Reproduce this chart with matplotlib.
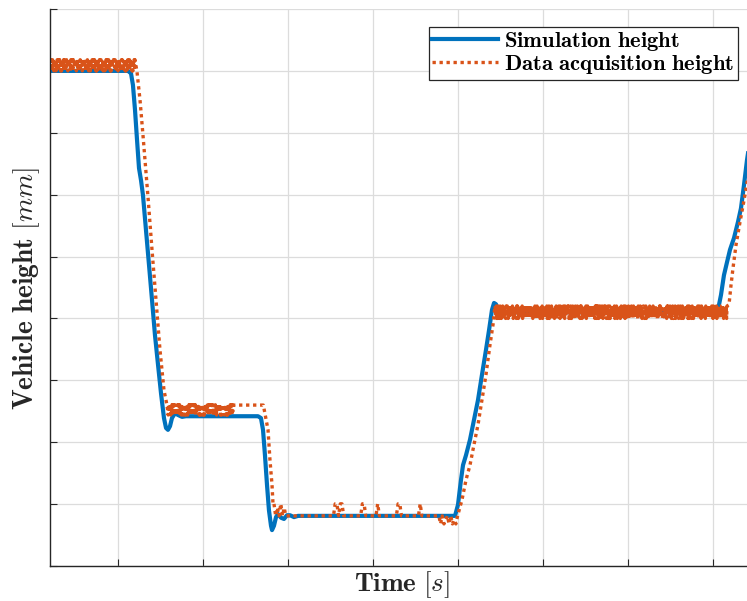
import numpy as np
import matplotlib
matplotlib.use("Agg")
import matplotlib.pyplot as plt

plt.rcParams["mathtext.fontset"] = "cm"
plt.rcParams["font.family"] = ["DejaVu Serif"]

BLUE = "#0072BD"
ORANGE = "#D95319"

# ---- simulated height (s, mm) ----
sim_t = [0.0, 9.18, 9.53, 9.76, 10.0, 10.24, 10.47, 10.71, 10.94, 11.29, 11.65, 12.0,
         12.35, 12.71, 13.06, 13.41, 13.65, 13.88, 14.12, 14.35, 14.71, 15.06, 15.53,
         16.0, 24.47, 24.82, 25.06, 25.29, 25.53, 25.76, 26.0, 26.12, 26.35, 26.59,
         26.82, 27.18, 27.53, 27.88, 28.24, 28.71, 29.18, 47.65, 48.0, 48.35, 48.59,
         48.94, 49.41, 49.88, 50.35, 50.82, 51.29, 51.65, 52.0, 52.24, 52.47, 52.71,
         53.06, 53.53, 78.24, 78.59, 78.94, 79.29, 79.65, 80.0, 80.47, 80.94, 81.29,
         81.65, 82.0, 82.35]
sim_h = [230.0, 230.0, 229.6, 227.7, 223.7, 218.8, 214.3, 212.3, 209.9, 204.3, 198.6,
         193.0, 187.3, 182.5, 177.9, 173.9, 172.3, 172.0, 172.6, 173.9, 174.7, 174.4,
         174.1, 174.2, 174.2, 173.9, 172.0, 167.9, 163.1, 159.0, 156.5, 155.8, 156.5,
         157.9, 158.4, 157.8, 157.6, 158.2, 158.2, 157.9, 158.1, 158.1, 159.9, 163.9,
         166.3, 167.9, 170.4, 173.6, 176.8, 180.9, 184.9, 188.1, 191.4, 192.5, 192.3,
         191.4, 190.9, 191.0, 191.0, 191.4, 193.8, 197.0, 199.1, 201.1, 203.0, 205.6,
         207.8, 211.6, 215.6, 218.8]

# ---- measured height: quantised sensor readings on the plateaus ----
# plateau 1 (sampled every 0.05 s)
acq1_t0, acq1_dt, acq1_base, acq1_step = 0.0, 0.05, 230.0, 0.6
acq1_codes = ("3032103130" "2313020312" "0323103021" "3130320213" "1302313203"
              "2031032312" "3203130201" "0312320313" "1323021030" "3021303213"
              "2130231302" "0313203213" "3120302310" "2031320132" "1302031323"
              "3213020313" "0231302132" "3102313020" "2303120313" "1320302131" "3")
# drop 1
drop1_t = [10.24, 10.59, 10.94, 11.53, 12.0, 12.47, 12.94, 13.41, 13.76]
drop1_h = [229.8, 225.3, 219.6, 209.6, 201.1, 193.0, 184.9, 178.4, 176.0]
# plateau 2
acq2_t0, acq2_dt, acq2_base, acq2_step = 13.9, 0.05, 174.4, 0.55
acq2_codes = ("0312320313" "0323103021" "2130231302" "3032103130" "2303120313"
              "1302313203" "0231302132" "3120302310" "1320302131" "2313020312"
              "3203130201" "1302031323" "3130320213" "3102313020" "0313203213" "031")
hold2_t = [21.6, 25.1]
hold2_h = [176.0, 176.0]
# drop 2
drop2_t = [25.65, 25.88, 26.12, 26.24]
drop2_h = [172.0, 167.1, 163.1, 159.9]
# plateau 3 (code 2 is the resting value)
acq3_t0, acq3_dt, acq3_base, acq3_step = 26.35, 0.2, 158.1, 0.65
acq3_codes = ("5242524" + "2" * 29 + "552552" + "2" * 10 + "55" + "2" * 7 + "5"
              + "2" * 11 + "55" + "2" * 11 + "5" + "2" * 11 + "02012020102")
acq3_zero = 2
# rise 1
rise1_t = [48.47, 48.94, 49.41, 49.88, 50.35, 50.82, 51.29, 51.76, 52.12]
rise1_h = [160.7, 163.9, 166.3, 169.6, 172.8, 176.8, 180.9, 185.7, 189.0]
# plateau 4
acq4_t0, acq4_dt, acq4_base, acq4_step = 52.35, 0.05, 190.0, 0.67
acq4_codes = ("3213020313" "3032103130" "3021303213" "2031032312" "1320302131"
              "0323103021" "3120302310" "0312320313" "3102313020" "1302313203"
              "2313020312" "2303120313" "2130231302" "3203130201" "0231302132"
              "3130320213" "1302031323" "1323021030" "0313203213" "2031320132"
              "0323103021" "1320302131" "0312320313" "3032103130" "3213020313"
              "2031032312" "3102313020" "3021303213" "1302313203" "3120302310"
              "2313020312" "0231302132" "0313203213" "2303120313" "3130320213"
              "3203130201" "2031320132" "2130231302" "1302031323" "1323021030"
              "2031032312" "3032103130" "0231302132" "1302313203" "1320302131"
              "2313020312" "3102313020" "0312320313" "0323103021" "3021303213"
              "2130231302" "3120302310" "2303120313" "3203130201" "3021303")
# rise 2
rise2_t = [79.88, 80.12, 80.35, 80.71, 81.18, 81.65, 82.0, 82.35, 82.82]
rise2_h = [192.2, 195.4, 198.1, 201.9, 205.6, 209.1, 211.9, 214.8, 218.8]


def plateau(t0, dt, base, step, codes, zero=0):
    d = np.array([int(c) for c in codes], dtype=float)
    t = t0 + dt * np.arange(len(d))
    return t, base + (d - zero) * step


parts = [
    plateau(acq1_t0, acq1_dt, acq1_base, acq1_step, acq1_codes),
    (np.array(drop1_t), np.array(drop1_h)),
    plateau(acq2_t0, acq2_dt, acq2_base, acq2_step, acq2_codes),
    (np.array(hold2_t), np.array(hold2_h)),
    (np.array(drop2_t), np.array(drop2_h)),
    plateau(acq3_t0, acq3_dt, acq3_base, acq3_step, acq3_codes, acq3_zero),
    (np.array(rise1_t), np.array(rise1_h)),
    plateau(acq4_t0, acq4_dt, acq4_base, acq4_step, acq4_codes),
    (np.array(rise2_t), np.array(rise2_h)),
]
acq_t = np.concatenate([p[0] for p in parts])
acq_h = np.concatenate([p[1] for p in parts])

x_ticks = np.arange(8, 84, 10)
y_ticks = np.arange(150, 241, 10)

W, H = 747, 601
fig = plt.figure(figsize=(W / 100, H / 100), dpi=100)
ax = fig.add_axes([50 / W, 35 / H, 714 / W, 557 / H])

ax.plot(sim_t, sim_h, color=BLUE, lw=3.0, label=r"$\mathbf{Simulation\ height}$",
        solid_joinstyle="round")
ax.plot(acq_t, acq_h, color=ORANGE, lw=2.4, linestyle=(0, (1.0, 1.1)),
        label=r"$\mathbf{Data\ acquisition\ height}$")

ax.set_xlim(0, 84)
ax.set_ylim(150, 240)
ax.set_xticks(x_ticks)
ax.set_yticks(y_ticks)
ax.set_xticklabels([])
ax.set_yticklabels([])
ax.grid(True, color="#dcdcdc", lw=0.9)
ax.set_axisbelow(True)
ax.tick_params(direction="in", length=5, width=0.8, color="#262626")
for side in ("top", "right"):
    ax.spines[side].set_visible(False)
for side in ("left", "bottom"):
    ax.spines[side].set_color("#262626")
    ax.spines[side].set_linewidth(1.0)

fig.text(402 / W, 1 - 585 / H, r"$\mathbf{Time}\ [s]$", fontsize=19.5,
         ha="center", va="center", color="#262626")
fig.text(27 / W, 1 - 289 / H, r"$\mathbf{Vehicle\ height}\ [mm]$", fontsize=19.8,
         ha="center", va="center", rotation=90, color="#262626")

leg = ax.legend(loc="upper right", bbox_to_anchor=(738 / W, 1 - 27 / H),
                bbox_transform=fig.transFigure, borderaxespad=0, fontsize=16.3,
                fancybox=False, framealpha=1, edgecolor="#262626",
                handlelength=2.9, handletextpad=0.3, labelspacing=0.0,
                borderpad=0.15)
leg.get_frame().set_linewidth(0.9)

fig.savefig("out.png", dpi=100)
